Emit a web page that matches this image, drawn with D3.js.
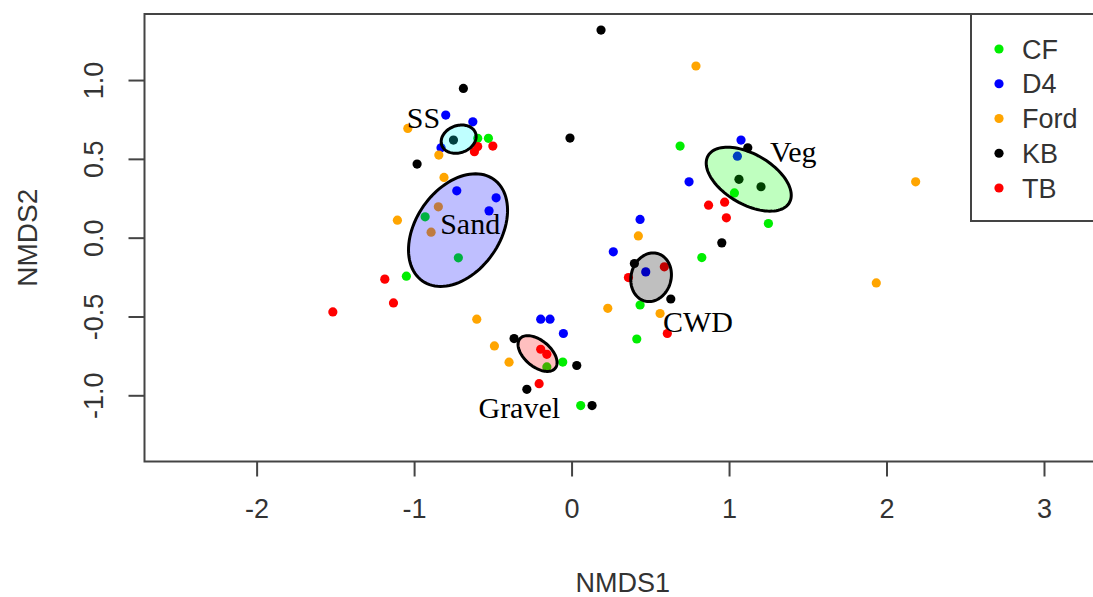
<!DOCTYPE html>
<html>
<head>
<meta charset="utf-8">
<script src="https://cdn.jsdelivr.net/npm/d3@7"></script>
<style>
  html, body { margin: 0; padding: 0; background: #fff; }
  svg { display: block; }
</style>
</head>
<body>
<svg id="chart" width="1093" height="597"></svg>
<script>
// NMDS ordination scores per site (NMDS1, NMDS2)
const sites = ["CF", "D4", "Ford", "KB", "TB"];
const siteColors = ["#00ee00", "#0000ff", "#ffa500", "#000000", "#ff0000"];

const cfScores = [
  [-0.596, 0.630], [-0.528, 0.630], [-0.930, 0.132], [-0.719, -0.128],
  [-1.049, -0.244], [-0.157, -0.820], [-0.056, -0.789], [0.058, -1.065],
  [0.435, -0.427], [0.414, -0.643], [0.827, -0.126], [0.689, 0.581],
  [1.034, 0.284], [1.250, 0.090]
];
const d4Scores = [
  [-0.799, 0.778], [-0.627, 0.735], [-0.829, 0.570], [-0.729, 0.297],
  [-0.479, 0.253], [-0.524, 0.170], [-0.196, -0.517], [-0.137, -0.517],
  [-0.052, -0.608], [0.435, 0.116], [0.265, -0.090], [0.471, -0.217],
  [0.746, 0.354], [1.076, 0.619], [1.053, 0.517]
];
const fordScores = [
  [-1.040, 0.693], [-0.843, 0.524], [-0.810, 0.382], [-0.846, 0.196],
  [-0.892, 0.035], [-1.106, 0.111], [-0.602, -0.517], [-0.490, -0.687],
  [-0.397, -0.790], [0.230, -0.448], [0.424, 0.011], [0.562, -0.481],
  [0.790, 1.089], [2.185, 0.354], [1.935, -0.287]
];
const kbScores = [
  [-0.687, 0.947], [-0.750, 0.619], [-0.981, 0.467], [0.187, 1.317],
  [-0.010, 0.632], [-0.365, -0.640], [0.033, -0.811], [-0.284, -0.962],
  [0.130, -1.065], [0.399, -0.164], [0.630, -0.389], [0.954, -0.033],
  [1.119, 0.570], [1.063, 0.370], [1.203, 0.323]
];
const tbScores = [
  [-0.596, 0.578], [-0.617, 0.545], [-0.500, 0.581], [-1.186, -0.263],
  [-1.131, -0.414], [-1.516, -0.471], [-0.196, -0.708], [-0.157, -0.740],
  [-0.206, -0.926], [0.361, -0.253], [0.589, -0.185], [0.608, -0.608],
  [0.870, 0.206], [0.972, 0.225], [0.983, 0.126]
];
const siteScores = [cfScores, d4Scores, fordScores, kbScores, tbScores];

// Habitat ellipses: centre, semi-axes and rotation (degrees)
const habitats = ["SS", "Sand", "Gravel", "CWD", "Veg"];
const habitatCentres = [[-0.717, 0.625], [-0.721, 0.048], [-0.216, -0.735], [0.505, -0.251], [1.125, 0.371]];
const habitatAxes = [[0.114, 0.086], [0.394, 0.267], [0.146, 0.083], [0.156, 0.127], [0.298, 0.159]];
const habitatAngles = [20, 55, -40, 75, -30];
const habitatFills = ["#00ffff", "#0000ff", "#ff0000", "#000000", "#00ff00"];
const habitatLabelPos = [[-0.940, 0.762], [-0.644, 0.093], [-0.332, -1.079], [0.803, -0.533], [1.408, 0.546]];

const xTicks = [-2, -1, 0, 1, 2, 3];
const xTickLabels = ["-2", "-1", "0", "1", "2", "3"];
const yTicks = [-1.0, -0.5, 0.0, 0.5, 1.0];
const yTickLabels = ["-1.0", "-0.5", "0.0", "0.5", "1.0"];

// Layout
const plotLeft = 144.5, plotTop = 14, plotBottom = 461.5, plotRight = 1101;
const svg = d3.select("#chart");

const x = d3.scaleLinear().domain([-2.712, 3.362]).range([plotLeft, plotRight]);
const y = d3.scaleLinear().domain([-1.420, 1.419]).range([plotBottom, plotTop]);

const axisColor = "#444";
const sansFont = "'Liberation Sans', Arial, sans-serif";
const serifFont = "'Liberation Serif', 'Times New Roman', serif";

// Site points
siteScores.forEach((pts, i) => {
  svg.append("g").selectAll("circle")
    .data(pts)
    .join("circle")
    .attr("cx", d => x(d[0]))
    .attr("cy", d => y(d[1]))
    .attr("r", 4.6)
    .attr("fill", siteColors[i]);
});

// Ellipses as closed polygons in data space
const line = d3.line().x(d => x(d[0])).y(d => y(d[1])).curve(d3.curveLinearClosed);
function ellipsePoints(c, ax, angDeg) {
  const th = angDeg * Math.PI / 180, out = [];
  for (let k = 0; k < 100; k++) {
    const t = 2 * Math.PI * k / 100;
    const ex = ax[0] * Math.cos(t), ey = ax[1] * Math.sin(t);
    out.push([c[0] + ex * Math.cos(th) - ey * Math.sin(th),
              c[1] + ex * Math.sin(th) + ey * Math.cos(th)]);
  }
  return out;
}
const eg = svg.append("g");
habitats.forEach((h, i) => {
  eg.append("path")
    .attr("d", line(ellipsePoints(habitatCentres[i], habitatAxes[i], habitatAngles[i])))
    .attr("fill", habitatFills[i])
    .attr("fill-opacity", 0.25)
    .attr("stroke", "#000")
    .attr("stroke-width", 3);
});

// Habitat labels
svg.append("g").selectAll("text")
  .data(habitats)
  .join("text")
  .attr("x", (d, i) => x(habitatLabelPos[i][0]))
  .attr("y", (d, i) => y(habitatLabelPos[i][1]))
  .attr("dy", "0.35em")
  .attr("text-anchor", "middle")
  .attr("font-family", serifFont)
  .attr("font-size", 30)
  .attr("fill", "#000")
  .text(d => d);

// Plot frame
svg.append("rect")
  .attr("x", plotLeft).attr("y", plotTop)
  .attr("width", plotRight - plotLeft).attr("height", plotBottom - plotTop)
  .attr("fill", "none").attr("stroke", axisColor).attr("stroke-width", 2);

// X axis
const xAxis = d3.axisBottom(x).tickValues(xTicks).tickSize(15).tickPadding(22)
  .tickFormat((d, i) => xTickLabels[i]);
const gx = svg.append("g").attr("transform", `translate(0,${plotBottom})`).call(xAxis);
gx.select(".domain").remove();
gx.selectAll("line").attr("stroke", axisColor).attr("stroke-width", 2);
gx.selectAll("text").attr("font-family", sansFont).attr("font-size", 27).attr("fill", "#333");

// Y axis with rotated labels
const yAxis = d3.axisLeft(y).tickValues(yTicks).tickSize(16)
  .tickFormat((d, i) => yTickLabels[i]);
const gy = svg.append("g").attr("transform", `translate(${plotLeft},0)`).call(yAxis);
gy.select(".domain").remove();
gy.selectAll("line").attr("stroke", axisColor).attr("stroke-width", 2);
gy.selectAll("text")
  .attr("x", null).attr("dy", null)
  .attr("text-anchor", "middle")
  .attr("transform", "translate(-42,0) rotate(-90)")
  .attr("font-family", sansFont).attr("font-size", 27).attr("fill", "#333");

// Axis titles
svg.append("text")
  .attr("x", (plotLeft + plotRight) / 2).attr("y", 592)
  .attr("text-anchor", "middle")
  .attr("font-family", sansFont).attr("font-size", 27).attr("fill", "#333")
  .text("NMDS1");
svg.append("text")
  .attr("transform", `translate(37,${(plotTop + plotBottom) / 2}) rotate(-90)`)
  .attr("text-anchor", "middle")
  .attr("font-family", sansFont).attr("font-size", 28).attr("fill", "#333")
  .text("NMDS2");

// Legend
const legend = svg.append("g");
legend.append("rect")
  .attr("x", 971).attr("y", plotTop)
  .attr("width", 200).attr("height", 207)
  .attr("fill", "#fff").attr("stroke", axisColor).attr("stroke-width", 2);
const rows = legend.selectAll("g.row").data(sites).join("g")
  .attr("class", "row")
  .attr("transform", (d, i) => `translate(0,${49 + i * 34.75})`);
rows.append("circle").attr("cx", 999).attr("cy", 0).attr("r", 4.6)
  .attr("fill", (d, i) => siteColors[i]);
rows.append("text").attr("x", 1022).attr("y", 0).attr("dy", "0.36em")
  .attr("font-family", sansFont).attr("font-size", 27).attr("fill", "#333")
  .text(d => d);
</script>
</body>
</html>
